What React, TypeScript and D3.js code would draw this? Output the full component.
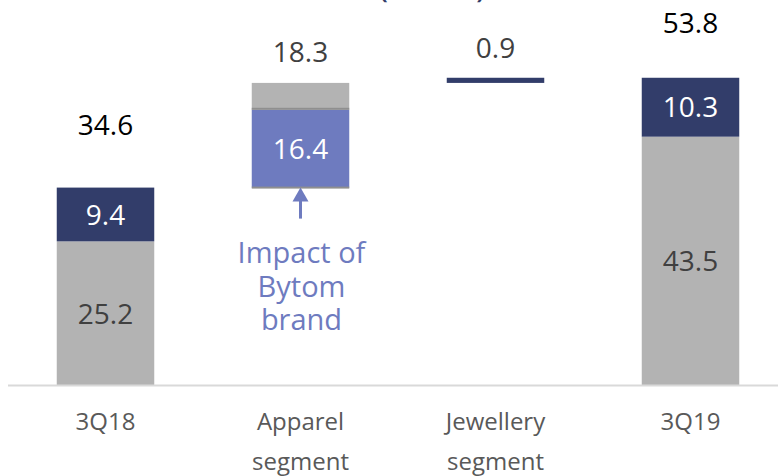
import React from "react";
import * as d3 from "d3";

const categories = ["3Q18", "Apparel segment", "Jewellery segment", "3Q19"];
const totals = ["34.6", "18.3", "0.9", "53.8"];
const waterfallStart = [0, 34.6, 52.9, 0];
const lowerValues = [25.2, 13.6, 0.9, 43.5];
const upperValues = [9.4, 4.7, 0, 10.3];
const lowerLabels = ["25.2", "16.4", "", "43.5"];
const upperLabels = ["9.4", "", "", "10.3"];
const noteLines = ["Impact of", "Bytom", "brand"];
const titleText = "(PLN m)";

const W = 778;
const H = 476;
const NAVY = "#323d6a";
const GRAY = "#b3b3b3";
const BLUE = "#6e7bbf";
const FONT = "'Open Sans', 'Noto Sans', sans-serif";

const lowerColors = [GRAY, BLUE, NAVY, GRAY];
const upperColors = [NAVY, GRAY, NAVY, NAVY];
const lowerTextColors = ["#404040", "#ffffff", "#ffffff", "#404040"];
const upperTextColors = ["#ffffff", "#ffffff", "#ffffff", "#ffffff"];
const totalColors = ["#000000", "#404040", "#404040", "#000000"];
const totalGap = [53, 21, 20, 45];

export default function App() {
  const x = d3
    .scaleBand<string>()
    .domain(categories)
    .range([8, 788])
    .paddingInner(0.5)
    .paddingOuter(0.25);
  const y = d3.scaleLinear().domain([0, 60]).range([385.5, 385.5 - 60 * 5.72]);
  const bw = x.bandwidth();

  return (
    <svg
      width={W}
      height={H}
      style={{ position: "absolute", left: 0, top: 0, fontFamily: FONT }}
    >
      <text x={379} y={-2} fontSize={28} fill={NAVY} fontWeight={600}>
        {titleText}
      </text>
      {categories.map((c, i) => {
        const x0 = x(c)!;
        const cx = x0 + bw / 2;
        const s = waterfallStart[i];
        const l = lowerValues[i];
        const u = upperValues[i];
        const yLowTop = y(s + l);
        const yLowBot = y(s);
        const yUpTop = y(s + l + u);
        const top = yUpTop;
        return (
          <g key={c}>
            <rect x={x0} y={yLowTop} width={bw} height={yLowBot - yLowTop} fill={lowerColors[i]} />
            {u > 0 && (
              <rect x={x0} y={yUpTop} width={bw} height={yLowTop - yUpTop} fill={upperColors[i]} />
            )}
            {i === 1 && (
              <g>
                <rect x={x0} y={yLowTop - 2} width={bw} height={2} fill="#8f8f8f" />
                <rect x={x0} y={yLowBot - 1} width={bw} height={2} fill="#8f8f8f" />
              </g>
            )}
            {lowerLabels[i] && (
              <text
                x={cx}
                y={(yLowTop + yLowBot) / 2}
                dy="0.36em"
                textAnchor="middle"
                fontSize={28}
                fill={lowerTextColors[i]}
              >
                {lowerLabels[i]}
              </text>
            )}
            {upperLabels[i] && (
              <text
                x={cx}
                y={(yUpTop + yLowTop) / 2}
                dy="0.36em"
                textAnchor="middle"
                fontSize={28}
                fill={upperTextColors[i]}
              >
                {upperLabels[i]}
              </text>
            )}
            <text
              x={cx}
              y={top - totalGap[i]}
              textAnchor="middle"
              fontSize={28}
              fill={totalColors[i]}
            >
              {totals[i]}
            </text>
            {c.split(" ").map((w, j) => (
              <text
                key={j}
                x={cx}
                y={430 + j * 40}
                textAnchor="middle"
                fontSize={24}
                fill="#595959"
              >
                {w}
              </text>
            ))}
          </g>
        );
      })}
      {(() => {
        const cx = x(categories[1])! + bw / 2;
        const tip = y(waterfallStart[1]);
        return (
          <g>
            <path d={`M${cx},${tip} L${cx - 8},${tip + 14} L${cx + 8},${tip + 14} Z`} fill={BLUE} />
            <rect x={cx - 1.5} y={tip + 12} width={3} height={19} fill={BLUE} />
            {noteLines.map((t, j) => (
              <text
                key={j}
                x={cx + 1}
                y={263 + j * 33.5}
                textAnchor="middle"
                fontSize={29}
                fill={BLUE}
              >
                {t}
              </text>
            ))}
          </g>
        );
      })()}
      <line x1={8} x2={778} y1={385.5} y2={385.5} stroke="#d9d9d9" strokeWidth={2} />
    </svg>
  );
}
